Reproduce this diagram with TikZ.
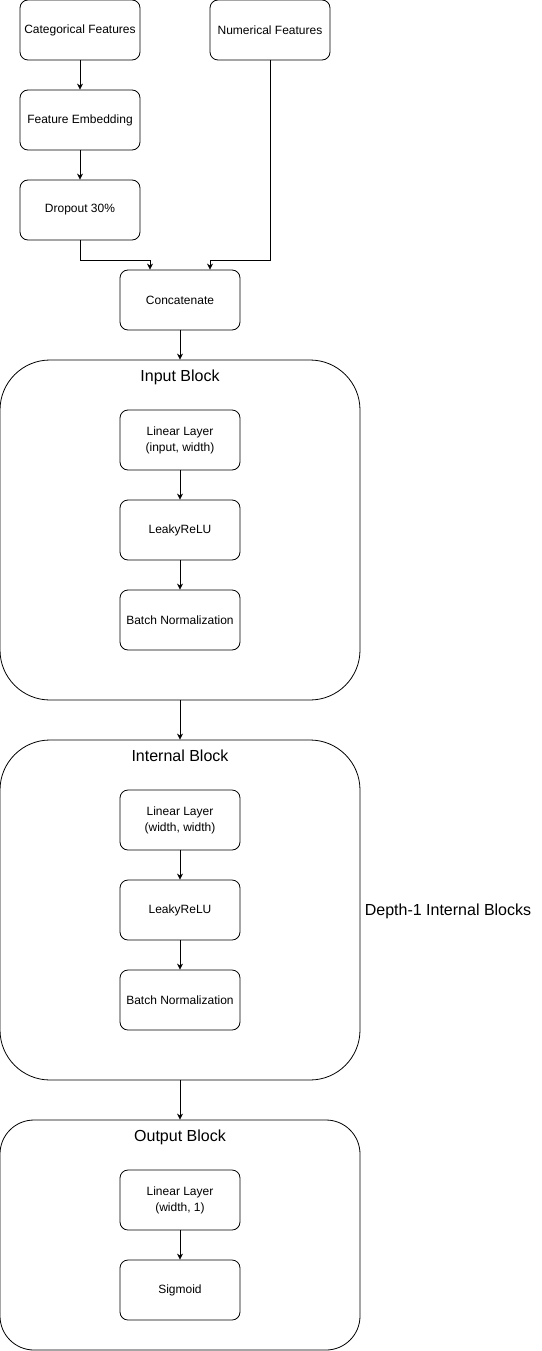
\documentclass[tikz,border=0pt]{standalone}
\usepackage{fontspec}
\setmainfont{Liberation Sans}
\usetikzlibrary{arrows.meta}
\begin{document}
\begin{tikzpicture}[x=1pt,y=-1pt,
  box/.style={draw,line width=0.8pt,rounded corners=8pt,minimum width=120pt,minimum height=60pt,inner sep=0pt,align=center,font=\fontsize{12}{16}\selectfont},
  blk/.style={draw,line width=0.8pt,minimum width=360pt,inner sep=0pt},
  ttl/.style={font=\fontsize{16}{18}\selectfont,anchor=center},
  arr/.style={line width=0.8pt,-{Stealth[length=6pt,width=6pt]}}]
\useasboundingbox (0,0) rectangle (541,1351);
% outer blocks
\node[blk,rounded corners=50pt,minimum height=340pt] (inb) at (180,530) {};
\node[blk,rounded corners=50pt,minimum height=340pt] (intb) at (180,910) {};
\node[blk,rounded corners=34pt,minimum height=230pt] (outb) at (180,1235) {};
\node[ttl] (inbt) at (180,377) {Input Block};
\node[ttl] (intbt) at (180,756) {Internal Block};
\node[ttl] (outbt) at (180,1137) {Output Block};
\node[ttl] (depth) at (448,911) {Depth-1 Internal Blocks};
% top
\node[box] (cat) at (80,30) {Categorical Features};
\node[box] (num) at (270,30) {Numerical Features};
\node[box] (emb) at (80,120) {Feature Embedding};
\node[box] (drop) at (80,210) {Dropout 30\%};
\node[box] (conc) at (180,300) {Concatenate};
% input block
\node[box] (l1) at (180,440) {Linear Layer\\(input, width)};
\node[box] (r1) at (180,530) {LeakyReLU};
\node[box] (b1) at (180,620) {Batch Normalization};
% internal block
\node[box] (l2) at (180,820) {Linear Layer\\(width, width)};
\node[box] (r2) at (180,910) {LeakyReLU};
\node[box] (b2) at (180,1000) {Batch Normalization};
% output block
\node[box] (l3) at (180,1200) {Linear Layer\\(width, 1)};
\node[box] (sg) at (180,1290) {Sigmoid};
% arrows
\draw[arr] (cat) -- (emb);
\draw[arr] (emb) -- (drop);
\draw[arr] (drop.south) |- (150,260) -- ([xshift=-30pt]conc.north);
\draw[arr] (num.south) |- (210,260) -- ([xshift=30pt]conc.north);
\draw[arr] (conc) -- (inb);
\draw[arr] (l1) -- (r1);
\draw[arr] (r1) -- (b1);
\draw[arr] (inb) -- (intb);
\draw[arr] (l2) -- (r2);
\draw[arr] (r2) -- (b2);
\draw[arr] (intb) -- (outb);
\draw[arr] (l3) -- (sg);
\end{tikzpicture}
\end{document}
